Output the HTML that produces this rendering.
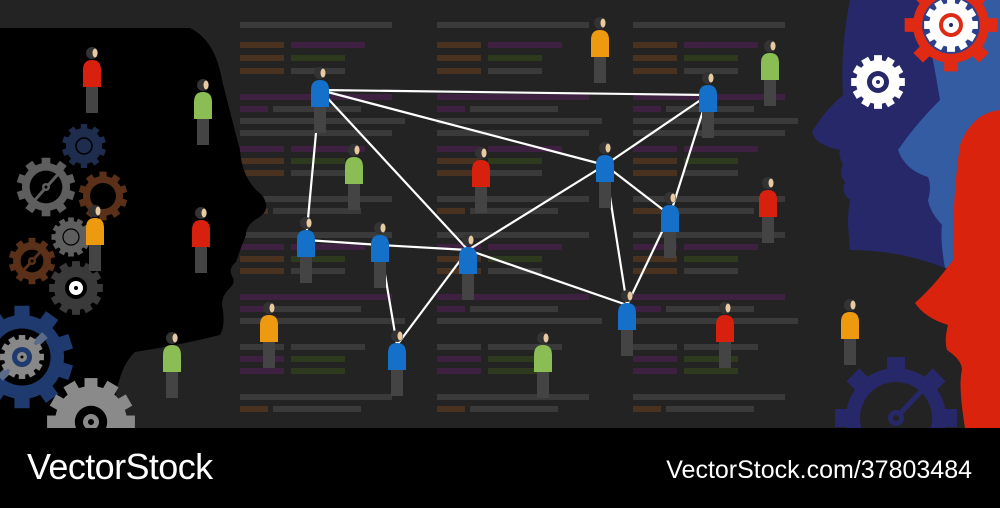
<!DOCTYPE html>
<html><head><meta charset="utf-8"><style>
html,body{margin:0;padding:0;background:#000;}
#w{position:relative;width:1000px;height:508px;overflow:hidden;background:#000;font-family:"Liberation Sans",sans-serif;}
svg{position:absolute;left:0;top:0;}
.t1{position:absolute;left:27px;top:447px;color:#fff;font-size:36px;letter-spacing:-0.6px;line-height:40px;}
.t2{position:absolute;right:28px;top:456px;color:#fff;font-size:25px;line-height:28px;}
</style></head><body><div id="w">
<svg id="s" width="1000" height="428" viewBox="0 0 1000 428">
<rect width="1000" height="428" fill="#232323"/>
<g id="code"></g>
<path d="M0 28 L190 28 Q215 40 222 80 Q232 120 240 150 Q242 180 262 195 Q272 210 258 218 Q246 225 246 235 Q240 250 236 262 Q228 268 232 276 Q236 282 230 288 Q222 295 222 305 Q226 325 220 335 Q180 345 135 352 Q115 370 112 428 L0 428 Z" fill="#000"/>
<path d="M850 0 L1000 0 L1000 268 L945 268 Q900 250 850 250 L848 225 Q848 210 850 200 Q840 192 845 182 Q838 174 843 165 Q838 155 840 150 Q815 145 812 132 Q825 110 843 95 Q840 50 850 0 Z" fill="#26286a"/>
<path d="M920 0 L1000 0 L1000 268 L945 268 Q940 240 942 225 Q930 212 928 200 Q932 187 928 177 Q905 170 898 150 Q915 125 940 100 Q930 40 920 0Z" fill="#345ca2"/>
<path d="M1000 110 Q972 113 960 145 Q952 200 953 260 Q935 285 915 303 Q925 318 948 325 Q944 340 947 350 Q962 360 962 370 Q958 385 965 428 L1000 428Z" fill="#da230c"/>
<g id="gears"></g>
<g stroke="#fff" stroke-width="2.2" id="lines"></g>
<g id="people"></g>
</svg>
<div class="t1">VectorStock</div>
<div class="t2">VectorStock.com/37803484</div>
</div>
<script>
const NS="http://www.w3.org/2000/svg";
function el(p,t,a){const e=document.createElementNS(NS,t);for(const k in a)e.setAttribute(k,a[k]);document.getElementById(p).appendChild(e);return e;}
const cols=[240,437,633];
const C={g:"#3a3a3a",b:"#4a3220",p:"#3e2040",n:"#2e3a1e"};
const pattern=[
[0,["g",0,152]],[20,["b",0,44],["p",51,74]],[33,["b",0,44],["n",51,54]],[46,["b",0,44],["g",51,54]],
[72,["p",0,152]],[84,["p",0,28],["g",33,88]],[96,["g",0,165]],[108,["g",0,152]],
[124,["p",0,44],["p",51,74]],[136,["b",0,44],["n",51,54]],[148,["b",0,44],["g",51,54]],
[174,["g",0,152]],[186,["b",0,28],["g",33,88]],
[210,["g",0,152]],[222,["p",0,44],["p",51,74]],[234,["b",0,44],["n",51,54]],[246,["b",0,44],["g",51,54]],
[272,["p",0,152]],[284,["p",0,28],["g",33,88]],[296,["g",0,165]],
[322,["g",0,44],["g",51,74]],[334,["p",0,44],["n",51,54]],[346,["p",0,44],["n",51,54]],
[372,["g",0,152]],[384,["b",0,28],["g",33,88]]];
for(const x of cols)for(const row of pattern){for(let i=1;i<row.length;i++){const [c,o,w]=row[i];el("code","rect",{x:x+o,y:22+row[0],width:w,height:6,fill:C[c]});}}
function gear(cx,cy,r,col,teeth,inner,hole){
 const g=el("gears","g",{});
 for(let i=0;i<teeth;i++){const a=i*360/teeth;const t=document.createElementNS(NS,"rect");t.setAttribute("x",cx-r*0.18);t.setAttribute("y",cy-r-r*0.22);t.setAttribute("width",r*0.36);t.setAttribute("height",r*0.5);t.setAttribute("fill",col);t.setAttribute("transform",`rotate(${a} ${cx} ${cy})`);g.appendChild(t);}
 const c=document.createElementNS(NS,"circle");c.setAttribute("cx",cx);c.setAttribute("cy",cy);c.setAttribute("r",r);c.setAttribute("fill",col);g.appendChild(c);
 if(inner>0){const c2=document.createElementNS(NS,"circle");c2.setAttribute("cx",cx);c2.setAttribute("cy",cy);c2.setAttribute("r",r*inner);c2.setAttribute("fill",hole||"#000");g.appendChild(c2);}
}
function circ(cx,cy,r,f,s,sw){el("gears","circle",{cx,cy,r,fill:f||"none",stroke:s||"none","stroke-width":sw||0});}
function ln(x1,y1,x2,y2,s,w){el("gears","line",{x1,y1,x2,y2,stroke:s,"stroke-width":w});}
gear(84,146,18,"#1e2d4e",10,0);circ(84,146,8,"none","#000",1.5);
gear(46,187,24,"#5e5e5e",10,0.68);ln(34,201,60,172,"#5e5e5e",3);circ(46,187,4,"#5e5e5e");circ(46,187,1.5,"#000");
gear(103,196,20,"#5a3018",10,0.65);
gear(71,237,16,"#5e5e5e",12,0);circ(71,237,8,"none","#000",1.2);
gear(32,261,19,"#5a3018",10,0.6);ln(22,272,42,250,"#5a3018",3);circ(32,261,4,"#5a3018");circ(32,261,1.5,"#000");
gear(76,288,22,"#3a3a3a",12,0.5);circ(76,288,7,"#fff");circ(76,288,2,"#000");
gear(22,357,42,"#1e3a6e",10,0.68);
ln(0,378,45,335,"#5a6a88",8);
gear(22,357,18,"#888",12,0);circ(22,357,10,"#1e3a6e");circ(22,357,5,"#888");circ(22,357,1.5,"#000");
gear(91,422,36,"#8a8a8a",12,0.45);circ(91,422,8,"#8a8a8a");circ(91,422,3,"#000");
gear(951,25,38,"#e02a14",8,0.76,"#2c3f8a");
gear(951,25,22,"#fff",12,0);circ(951,25,12,"#e02a14");circ(951,25,8,"#fff");circ(951,25,2,"#26286a");
gear(878,82,22,"#fff",12,0);circ(878,82,11,"#26286a");circ(878,82,6,"#fff");circ(878,82,2,"#26286a");
gear(896,418,50,"#26286a",8,0.72,"#232323");ln(896,418,927,385,"#26286a",5);circ(896,418,8,"#26286a");circ(896,418,3,"#232323");
const N={A:[320,90],B:[708,95],C:[605,165],D:[306,240],E:[380,245],F:[468,250],G:[670,215],H:[627,305],I:[397,345]};
"AB AD AF AC BC BG CG CF CH DE EF EI FI FH GH".split(" ").forEach(p=>{const a=N[p[0]],b=N[p[1]];el("lines","line",{x1:a[0],y1:a[1],x2:b[0],y2:b[1]});});
const col={b:"#1470c8",r:"#d8200e",g:"#8bbd55",o:"#ee9a10"};
function person(x,top,c){
 el("people","rect",{x:x-6,y:top+42,width:12,height:26,fill:"#444"});
 el("people","path",{d:`M${x-9} ${top+42} L${x-9} ${top+25} Q${x-9} ${top+15} ${x} ${top+15} Q${x+9} ${top+15} ${x+9} ${top+25} L${x+9} ${top+42} Z`,fill:col[c]});
 el("people","circle",{cx:x,cy:top+8,r:6,fill:"#333"});
 el("people","ellipse",{cx:x+3,cy:top+8,rx:2.5,ry:4.5,fill:"#e8c9a0"});
}
const P=[["b",320,65],["b",708,70],["b",605,140],["b",306,215],["b",380,220],["b",468,232],["b",670,190],["b",627,288],["b",397,328],
["r",92,45],["r",201,205],["r",481,145],["r",768,175],["r",725,300],
["g",203,77],["g",354,142],["g",770,38],["g",172,330],["g",543,330],
["o",600,15],["o",95,203],["o",269,300],["o",850,297]];
P.forEach(p=>person(p[1],p[2],p[0]));
</script>
</body></html>
